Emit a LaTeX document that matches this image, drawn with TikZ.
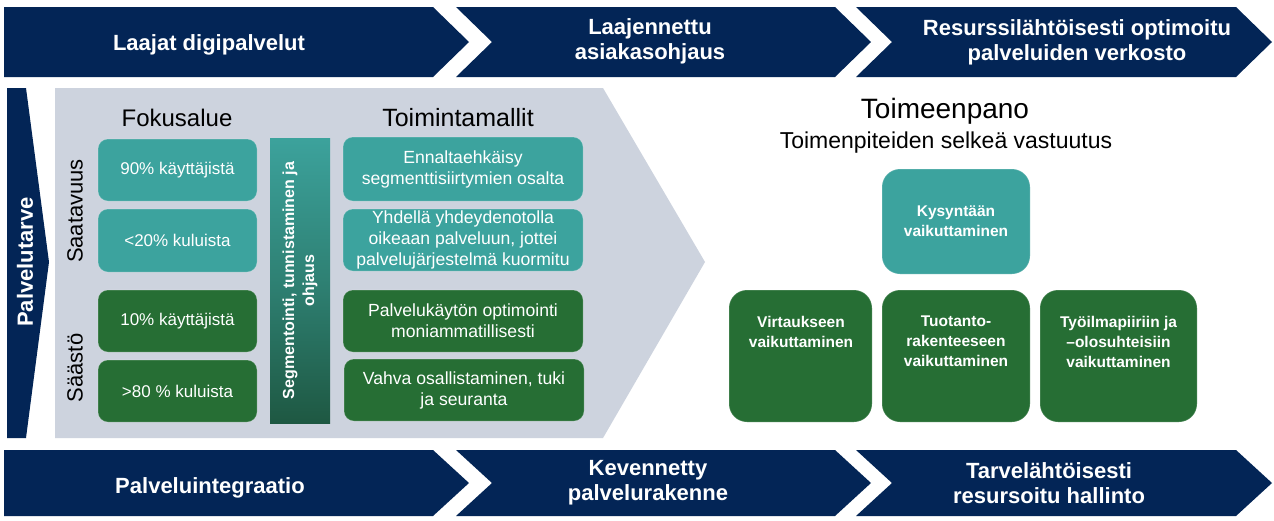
\documentclass[tikz,border=0pt]{standalone}
\usepackage{fontspec}
\setmainfont{Liberation Sans}
\definecolor{navy}{RGB}{3,37,86}
\definecolor{panel}{RGB}{205,211,222}
\definecolor{teal}{RGB}{60,163,158}
\definecolor{dgreen}{RGB}{38,110,52}
\definecolor{gradtop}{RGB}{60,162,156}
\definecolor{gradbot}{RGB}{30,88,66}
\tikzset{
  banner/.style={fill=navy},
  bantext/.style={text=white, font=\fontsize{22pt}{25pt}\selectfont\bfseries, align=center, inner sep=0pt},
  title/.style={text=black, font=\fontsize{24pt}{28pt}\selectfont, inner sep=0pt},
  sidelabel/.style={text=black, font=\fontsize{22pt}{26pt}\selectfont, rotate=90, inner sep=0pt},
  boxbase/.style={rounded corners=10pt, text=white, align=center, inner sep=0pt, draw=white, draw opacity=0.18, line width=1pt},
  fbox/.style={boxbase, minimum width=159pt, minimum height=62pt, font=\fontsize{17pt}{21pt}\selectfont},
  tbox/.style={boxbase, minimum width=240pt, minimum height=62pt, font=\fontsize{17.6pt}{21pt}\selectfont},
  rbox/.style={boxbase, rounded corners=18pt, minimum height=132pt},
  rtext/.style={text=white, align=center, inner sep=0pt, font=\fontsize{15.5pt}{20pt}\selectfont\bfseries},
}
\begin{document}
\begin{tikzpicture}[x=1pt,y=-1pt]
\useasboundingbox (0,0) rectangle (1274,520);
\fill[white] (0,0) rectangle (1274,520);

% top banners
\fill[banner] (4,7) -- (433,7) -- (469,42) -- (433,77) -- (4,77) -- cycle;
\fill[banner] (456,7) -- (835,7) -- (871,42) -- (835,77) -- (456,77) -- (492,42) -- cycle;
\fill[banner] (856,7) -- (1236,7) -- (1272,42) -- (1236,77) -- (856,77) -- (892,42) -- cycle;
\node[bantext] (b1) at (209,45) {Laajat digipalvelut};
\node[bantext] (b2) at (650,41) {Laajennettu\\asiakasohjaus};
\node[bantext] (b3) at (1077,42) {Resurssilähtöisesti optimoitu\\palveluiden verkosto};

% bottom banners
\fill[banner] (4,450) -- (433,450) -- (469,483) -- (433,516) -- (4,516) -- cycle;
\fill[banner] (456,450) -- (835,450) -- (871,483) -- (835,516) -- (456,516) -- (492,483) -- cycle;
\fill[banner] (856,450) -- (1236,450) -- (1272,483) -- (1236,516) -- (856,516) -- (892,483) -- cycle;
\node[bantext] (c1) at (210,488) {Palveluintegraatio};
\node[bantext] (c2) at (648,483) {Kevennetty\\palvelurakenne};
\node[bantext] (c3) at (1049,483) {Tarvelähtöisesti\\resursoitu hallinto};

% left arrow
\fill[navy] (7,88) -- (26,88) -- (49,262) -- (26,438) -- (7,438) -- cycle;
\node[text=white, font=\fontsize{22pt}{26pt}\selectfont\bfseries, rotate=90, inner sep=0pt] (pt) at (25,262) {Palvelutarve};

% gray panel
\fill[panel] (55,88) -- (603,88) -- (705,262) -- (603,438) -- (55,438) -- cycle;

\node[title] (fok) at (177,118) {Fokusalue};
\node[title, font=\fontsize{25pt}{28pt}\selectfont] (toim) at (458,118) {Toimintamallit};
\node[sidelabel] (saat) at (75,211) {Saatavuus};
\node[sidelabel] (saas) at (75,368) {Säästö};

\node[fbox, fill=teal] (f1) at (177.5,170) {90\% käyttäjistä};
\node[fbox, fill=teal, minimum height=63pt] (f2) at (177.5,240.5) {<20\% kuluista};
\node[fbox, fill=dgreen] (f3) at (177.5,321) {10\% käyttäjistä};
\node[fbox, fill=dgreen] (f4) at (177.5,391) {>80 \% kuluista};

\node[minimum width=60pt, minimum height=285pt, inner sep=0pt, top color=gradtop, bottom color=gradbot, middle color=gradtop!55!gradbot] (seg) at (300,280.5) {};
\node[rotate=90, text=white, align=center, inner sep=0pt, font=\fontsize{16pt}{20pt}\selectfont\bfseries] (segt) at (seg.center) {Segmentointi, tunnistaminen ja\\ohjaus};

\node[tbox, fill=teal, minimum height=64pt] (t1) at (463,169) {Ennaltaehkäisy\\segmenttisiirtymien osalta};
\node[tbox, fill=teal] (t2) at (463,240) {Yhdellä yhdeydenotolla\\oikeaan palveluun, jottei\\palvelujärjestelmä kuormitu};
\node[tbox, fill=dgreen] (t3) at (463,321) {Palvelukäytön optimointi\\moniammatillisesti};
\node[tbox, fill=dgreen] (t4) at (464,390) {Vahva osallistaminen, tuki\\ja seuranta};

% right part
\node[text=black, inner sep=0pt, font=\fontsize{28pt}{32pt}\selectfont] (tp) at (945,111) {Toimeenpano};
\node[text=black, inner sep=0pt, font=\fontsize{23pt}{26pt}\selectfont] (tps) at (946,143) {Toimenpiteiden selkeä vastuutus};

\node[rbox, fill=teal, minimum width=148pt, minimum height=105pt, font=\fontsize{15.5pt}{20pt}\selectfont\bfseries] (ky) at (956,221.5) {Kysyntään\\vaikuttaminen};
\node[rbox, fill=dgreen, minimum width=143pt] (vi) at (800.5,356) {};
\node[rbox, fill=dgreen, minimum width=148pt] (tu) at (956,356) {};
\node[rbox, fill=dgreen, minimum width=157pt] (ty) at (1118.5,356) {};
\node[rtext, anchor=north] (vit) at (801,316) {Virtaukseen\\vaikuttaminen};
\node[rtext, anchor=north] (tut) at (956,316) {Tuotanto-\\rakenteeseen\\vaikuttaminen};
\node[rtext, anchor=north] (tyt) at (1118.5,316) {Työilmapiiriin ja\\–olosuhteisiin\\vaikuttaminen};
\end{tikzpicture}
\end{document}
